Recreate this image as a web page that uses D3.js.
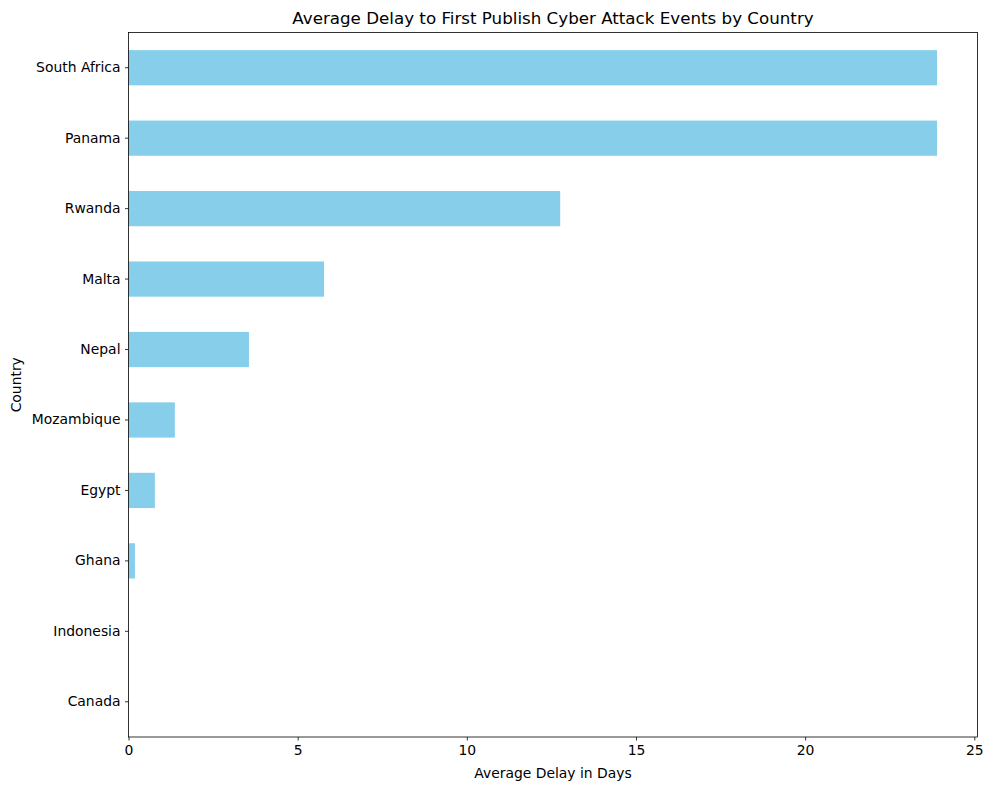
<!DOCTYPE html>
<meta charset="utf-8">
<script src="https://cdn.jsdelivr.net/npm/d3@7/dist/d3.min.js"></script>
<style>
  body { margin: 0; background: #fff; }
  text { font-family: "DejaVu Sans", sans-serif; fill: #000; }
</style>
<body></body>
<script>

var countries = ["South Africa", "Panama", "Rwanda", "Malta", "Nepal",
                 "Mozambique", "Egypt", "Ghana", "Indonesia", "Canada"];
var delays = [23.9, 23.9, 12.76, 5.78, 3.56, 1.37, 0.78, 0.19, 0, 0];
var xTicks = [0, 5, 10, 15, 20, 25];

var W = 989, H = 790,
    margin = {top: 32.5, right: 11.5, bottom: 53, left: 128.5},
    width = W - margin.left - margin.right,
    height = H - margin.top - margin.bottom;

var data = countries.map(function(c, i) { return {country: c, delay: delays[i]}; });

var x = d3.scaleLinear()
    .domain([0, d3.max(delays) * 1.05])
    .range([0, width]);

var y = d3.scaleBand()
    .domain(countries)
    .range([0, height])
    .paddingInner(0.5)
    .paddingOuter(0.25);

var svg = d3.select("body").append("svg")
    .attr("width", W)
    .attr("height", H);

var g = svg.append("g")
    .attr("transform", "translate(" + margin.left + "," + margin.top + ")");

g.selectAll("rect.bar")
    .data(data)
  .enter().append("rect")
    .attr("class", "bar")
    .attr("x", x(0))
    .attr("y", function(d) { return y(d.country); })
    .attr("width", function(d) { return x(d.delay) - x(0); })
    .attr("height", y.bandwidth())
    .attr("fill", "#87ceeb");

var xAxis = g.append("g")
    .attr("transform", "translate(0," + height + ")")
    .call(d3.axisBottom(x).tickValues(xTicks).tickSize(3.5).tickPadding(4.5));

var yAxis = g.append("g")
    .call(d3.axisLeft(y).tickSize(3.5).tickPadding(4.5));

[xAxis, yAxis].forEach(function(a) {
  a.select(".domain").remove();
  a.selectAll(".tick line").attr("stroke", "#000").attr("stroke-width", 0.8);
  a.selectAll(".tick text").style("font-size", "13.9px").attr("fill", "#000");
});

// frame
g.append("rect")
    .attr("width", width)
    .attr("height", height)
    .attr("fill", "none")
    .attr("stroke", "#000")
    .attr("stroke-width", 0.8);

svg.append("text")
    .attr("x", margin.left + width / 2)
    .attr("y", margin.top - 9)
    .attr("text-anchor", "middle")
    .style("font-size", "16.7px")
    .text("Average Delay to First Publish Cyber Attack Events by Country");

svg.append("text")
    .attr("x", margin.left + width / 2)
    .attr("y", H - 12)
    .attr("text-anchor", "middle")
    .style("font-size", "13.9px")
    .text("Average Delay in Days");

svg.append("text")
    .attr("transform", "translate(21," + (margin.top + height / 2) + ") rotate(-90)")
    .attr("text-anchor", "middle")
    .style("font-size", "13.9px")
    .text("Country");

</script>
